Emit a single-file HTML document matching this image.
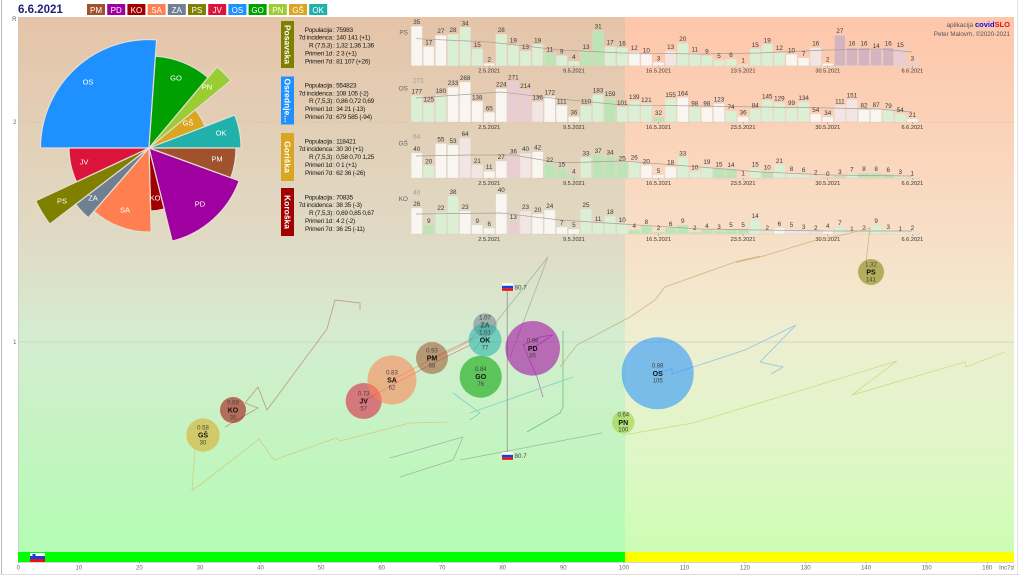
<!DOCTYPE html>
<html><head><meta charset="utf-8"><style>
html,body{margin:0;padding:0;background:#fff;}
svg{display:block;font-family:"Liberation Sans",sans-serif;}
.W{fill:#f9f6f1}.L{fill:#dbefd4}.G{fill:#bce4b4}.P{fill:#eacdd3}.M{fill:#d5b4bf}.Q{fill:#f2e5e4}
.bars rect{stroke:#e2dad2;stroke-width:0.4}
.bl text{font-size:6.3px;fill:#3a3a3a;text-anchor:middle}
.dt{font-size:5.6px;fill:#333;text-anchor:middle}
.inf{font-size:6.6px;fill:#1a1a1a;letter-spacing:-0.3px}
.ir{text-anchor:end}
.lg{font-size:8px;fill:#fff;text-anchor:middle}
.pl{font-size:7.5px;fill:#fff;text-anchor:middle}
.bv{font-size:6px;fill:#444;text-anchor:middle}
.bc{font-size:7px;font-weight:bold;fill:#111;text-anchor:middle}
.ax{font-size:6px;fill:#666;text-anchor:middle}
.rc{font-size:6.5px;fill:#666;text-anchor:end}
.mx{font-size:6.5px;fill:#999}
</style></head><body>
<svg width="1024" height="576" viewBox="0 0 1024 576" xmlns="http://www.w3.org/2000/svg">
<defs>
<linearGradient id="gl" x1="0" y1="17" x2="0" y2="552" gradientUnits="userSpaceOnUse">
<stop offset="0" stop-color="#e5c4a8"/><stop offset="0.43" stop-color="#e0dbc6"/><stop offset="0.6" stop-color="#d4edd0"/><stop offset="1" stop-color="#b3fcb3"/>
</linearGradient>
<linearGradient id="gr" x1="0" y1="17" x2="0" y2="552" gradientUnits="userSpaceOnUse">
<stop offset="0" stop-color="#fec6aa"/><stop offset="0.43" stop-color="#f7e0c8"/><stop offset="0.6" stop-color="#eeeed0"/><stop offset="0.8" stop-color="#e0f6c8"/><stop offset="1" stop-color="#ccfdb4"/>
</linearGradient>
</defs>
<rect width="1024" height="576" fill="#fff"/>
<line x1="1.5" y1="0" x2="1.5" y2="575" stroke="#bbb"/>
<line x1="0" y1="574.5" x2="1020" y2="574.5" stroke="#ddd"/>
<line x1="1017.5" y1="0" x2="1017.5" y2="575" stroke="#e4e4e4"/>
<!-- plot bg -->
<rect x="18" y="17" width="607" height="535" fill="url(#gl)"/>
<rect x="625" y="17" width="389" height="535" fill="url(#gr)"/>
<line x1="18" y1="122" x2="1014" y2="122" stroke="#c8bfae" stroke-width="0.7" stroke-dasharray="1.5,2"/>
<line x1="18" y1="342" x2="1014" y2="342" stroke="#c6d2bc" stroke-width="0.7"/>
<line x1="18.3" y1="17" x2="18.3" y2="562" stroke="#c8c8c8" stroke-width="0.6"/>
<!-- bottom bar -->
<rect x="18" y="552" width="607" height="10" fill="#00ff00"/>
<rect x="625" y="552" width="389" height="10" fill="#ffff00"/>
<rect x="30" y="553" width="15" height="3" fill="#fff"/><rect x="30" y="556" width="15" height="3" fill="#1040e0"/><rect x="30" y="559" width="15" height="3" fill="#ee1010"/>
<rect x="32.5" y="554" width="3" height="3.5" fill="#1040e0"/>
<line x1="18" y1="562.3" x2="1014" y2="562.3" stroke="#bbb" stroke-width="0.6"/>
<g stroke="#aaa" stroke-width="0.5">
<line x1="18.3" y1="562" x2="18.3" y2="564"/><line x1="78.9" y1="562" x2="78.9" y2="564"/><line x1="139.4" y1="562" x2="139.4" y2="564"/><line x1="200" y1="562" x2="200" y2="564"/><line x1="260.5" y1="562" x2="260.5" y2="564"/><line x1="321.1" y1="562" x2="321.1" y2="564"/><line x1="381.7" y1="562" x2="381.7" y2="564"/><line x1="442.2" y1="562" x2="442.2" y2="564"/><line x1="502.8" y1="562" x2="502.8" y2="564"/><line x1="563.3" y1="562" x2="563.3" y2="564"/><line x1="623.9" y1="562" x2="623.9" y2="564"/><line x1="684.5" y1="562" x2="684.5" y2="564"/><line x1="745" y1="562" x2="745" y2="564"/><line x1="805.6" y1="562" x2="805.6" y2="564"/><line x1="866.1" y1="562" x2="866.1" y2="564"/><line x1="926.7" y1="562" x2="926.7" y2="564"/><line x1="987.3" y1="562" x2="987.3" y2="564"/>
</g>
<g class="ax">
<text x="18.3" y="569.5">0</text><text x="78.9" y="569.5">10</text><text x="139.4" y="569.5">20</text><text x="200" y="569.5">30</text><text x="260.5" y="569.5">40</text><text x="321.1" y="569.5">50</text><text x="381.7" y="569.5">60</text><text x="442.2" y="569.5">70</text><text x="502.8" y="569.5">80</text><text x="563.3" y="569.5">90</text><text x="623.9" y="569.5">100</text><text x="684.5" y="569.5">110</text><text x="745" y="569.5">120</text><text x="805.6" y="569.5">130</text><text x="866.1" y="569.5">140</text><text x="926.7" y="569.5">150</text><text x="987.3" y="569.5">160</text><text x="1006.5" y="569.5">Inc7d</text>
</g>
<g class="ax" style="text-anchor:end"><text x="16.5" y="21">R</text><text x="16.5" y="124">2</text><text x="16.5" y="344">1</text></g>

<!-- header -->
<text x="18" y="13" font-size="11.5" font-weight="bold" fill="#1f1f7a">6.6.2021</text>
<rect x="87" y="4" width="18" height="11" fill="#a0522d"/><rect x="107.2" y="4" width="18" height="11" fill="#a000a0"/><rect x="127.4" y="4" width="18" height="11" fill="#a00000"/><rect x="147.6" y="4" width="18" height="11" fill="#ff7f50"/><rect x="167.8" y="4" width="18" height="11" fill="#708090"/><rect x="188" y="4" width="18" height="11" fill="#808000"/><rect x="208.2" y="4" width="18" height="11" fill="#dc143c"/><rect x="228.4" y="4" width="18" height="11" fill="#1e90ff"/><rect x="248.6" y="4" width="18" height="11" fill="#00a000"/><rect x="268.8" y="4" width="18" height="11" fill="#9acd32"/><rect x="289" y="4" width="18" height="11" fill="#daa520"/><rect x="309.2" y="4" width="18" height="11" fill="#20b2aa"/>
<g class="lg"><text x="96" y="12.8">PM</text><text x="116.2" y="12.8">PD</text><text x="136.4" y="12.8">KO</text><text x="156.6" y="12.8">SA</text><text x="176.8" y="12.8">ZA</text><text x="197" y="12.8">PS</text><text x="217.2" y="12.8">JV</text><text x="237.4" y="12.8">OS</text><text x="257.6" y="12.8">GO</text><text x="277.8" y="12.8">PN</text><text x="298" y="12.8">GŠ</text><text x="318.2" y="12.8">OK</text></g>

<!-- pie -->
<g stroke="#e6ddd4" stroke-width="1.2">
<path d="M149,148 L40.5,148 A108.5,108.5 0 0 1 156.6,39.8 Z" fill="#1e90ff"/>
<path d="M149,148 L155.4,56.2 A92,92 0 0 1 208.1,77.5 Z" fill="#00a000"/>
<path d="M149,148 L217.1,66.8 A106,106 0 0 1 230.8,80.6 Z" fill="#9acd32"/>
<path d="M149,148 L195.3,109.8 A60,60 0 0 1 205,126.5 Z" fill="#daa520"/>
<path d="M149,148 L234.9,115 A92,92 0 0 1 241,148 Z" fill="#20b2aa"/>
<path d="M149,148 L236,148 A87,87 0 0 1 230.8,177.8 Z" fill="#a0522d"/>
<path d="M149,148 L239.2,180.8 A96,96 0 0 1 172.2,241.1 Z" fill="#a000a0"/>
<path d="M149,148 L164.2,209.1 A63,63 0 0 1 150.6,211 Z" fill="#a00000"/>
<path d="M149,148 L151.2,232 A84,84 0 0 1 93.9,211.4 Z" fill="#ff7f50"/>
<path d="M149,148 L88.3,217.8 A92.5,92.5 0 0 1 75.6,204.3 Z" fill="#708090"/>
<path d="M149,148 L49.8,224.1 A125,125 0 0 1 35.7,200.8 Z" fill="#808000"/>
<path d="M149,148 L76.5,181.8 A80,80 0 0 1 69,148 Z" fill="#dc143c"/>
</g>
<g class="pl"><text x="88" y="84.5">OS</text><text x="176" y="80.5">GO</text><text x="207" y="89.5">PN</text><text x="188" y="125.5">GŠ</text><text x="221" y="135.5">OK</text><text x="217" y="161.5">PM</text><text x="200" y="206.5">PD</text><text x="155" y="200.5">KO</text><text x="125" y="212.5">SA</text><text x="93" y="200.5">ZA</text><text x="62" y="203.5">PS</text><text x="84" y="164.5">JV</text></g>

<!-- info panels -->
<rect x="281" y="21" width="13" height="47" fill="#808000"/>
<rect x="281" y="76.5" width="13" height="48" fill="#1e90ff"/>
<rect x="281" y="133" width="13" height="48" fill="#daa520"/>
<rect x="281" y="188" width="13" height="48" fill="#a00000"/>
<g font-size="8.5" font-weight="bold" fill="#fff" text-anchor="middle">
<text transform="translate(287.5,44.5) rotate(90)" dy="3">Posavska</text>
<text transform="translate(287.5,100.5) rotate(90)" dy="3">Osrednje...</text>
<text transform="translate(287.5,157) rotate(90)" dy="3">Goriška</text>
<text transform="translate(287.5,212) rotate(90)" dy="3">Koroška</text>
</g>
<g class="inf">
<g class="ir"><text x="332" y="31.8">Populacija</text><text x="332" y="39.7">7d incidenca</text><text x="332" y="47.4">R (7,5,3)</text><text x="332" y="55.3">Primeri 1d</text><text x="332" y="63.3">Primeri 7d</text>
<text x="332" y="87.4">Populacija</text><text x="332" y="95.3">7d incidenca</text><text x="332" y="103">R (7,5,3)</text><text x="332" y="111">Primeri 1d</text><text x="332" y="119">Primeri 7d</text>
<text x="332" y="143.4">Populacija</text><text x="332" y="151">7d incidenca</text><text x="332" y="159">R (7,5,3)</text><text x="332" y="167">Primeri 1d</text><text x="332" y="175">Primeri 7d</text>
<text x="332" y="199.4">Populacija</text><text x="332" y="207">7d incidenca</text><text x="332" y="215">R (7,5,3)</text><text x="332" y="223">Primeri 1d</text><text x="332" y="231">Primeri 7d</text></g>
<text x="333" y="31.8">: 75983</text><text x="333" y="39.7">: 140 141 (+1)</text><text x="333" y="47.4">: 1,32 1,36 1,36</text><text x="333" y="55.3">: 2 3 (+1)</text><text x="333" y="63.3">: 81 107 (+26)</text>
<text x="333" y="87.4">: 554823</text><text x="333" y="95.3">: 108 105 (-2)</text><text x="333" y="103">: 0,86 0,72 0,69</text><text x="333" y="111">: 34 21 (-13)</text><text x="333" y="119">: 679 585 (-94)</text>
<text x="333" y="143.4">: 118421</text><text x="333" y="151">: 30 30 (+1)</text><text x="333" y="159">: 0,58 0,70 1,25</text><text x="333" y="167">: 0 1 (+1)</text><text x="333" y="175">: 62 36 (-26)</text>
<text x="333" y="199.4">: 70835</text><text x="333" y="207">: 38 35 (-3)</text><text x="333" y="215">: 0,69 0,85 0,67</text><text x="333" y="223">: 4 2 (-2)</text><text x="333" y="231">: 36 25 (-11)</text>
</g>

<!-- credits -->
<text x="1010" y="27" font-size="6.5" text-anchor="end"><tspan fill="#555">aplikacija </tspan><tspan fill="#1010e0" font-weight="bold" font-size="7.5">covid</tspan><tspan fill="#e01010" font-weight="bold" font-size="7.5">SLO</tspan></text>
<text x="1010" y="36" font-size="6.2" fill="#555" text-anchor="end">Peter Malovrh, ©2020-2021</text>

<!-- region codes and max labels -->
<text class="rc" x="408" y="34.5">PS</text><text class="rc" x="408" y="90.5">OS</text><text class="rc" x="408" y="145.5">GŠ</text><text class="rc" x="408" y="201">KO</text>
<text class="mx" x="413" y="82.5">271</text><text class="mx" x="413" y="138.5">64</text><text class="mx" x="413" y="194.5">40</text>

<!-- chart 1 -->
<g transform="translate(0,65.7)">
<line x1="411" y1="0" x2="920" y2="0" stroke="#c8c0b8" stroke-width="0.6"/>
<g class="bars">
<rect x="411.2" y="-39.5" width="11" height="39.5" class="W"/><rect x="423.3" y="-19.2" width="11" height="19.2" class="W"/><rect x="435.4" y="-30.5" width="11" height="30.5" class="W"/><rect x="447.5" y="-31.6" width="11" height="31.6" class="L"/><rect x="459.6" y="-38.4" width="11" height="38.4" class="L"/><rect x="471.7" y="-16.9" width="11" height="16.9" class="L"/><rect x="483.7" y="-2.3" width="11" height="2.3" class="W"/><rect x="495.8" y="-31.6" width="11" height="31.6" class="L"/><rect x="507.9" y="-21.4" width="11" height="21.4" class="L"/><rect x="520" y="-14.7" width="11" height="14.7" class="L"/><rect x="532.1" y="-21.4" width="11" height="21.4" class="L"/><rect x="544.2" y="-12.4" width="11" height="12.4" class="G"/><rect x="556.3" y="-10.2" width="11" height="10.2" class="L"/><rect x="568.4" y="-4.5" width="11" height="4.5" class="L"/><rect x="580.5" y="-14.7" width="11" height="14.7" class="G"/><rect x="592.6" y="-35" width="11" height="35" class="G"/><rect x="604.6" y="-19.2" width="11" height="19.2" class="L"/><rect x="616.7" y="-18.1" width="11" height="18.1" class="L"/><rect x="628.8" y="-13.5" width="11" height="13.5" class="W"/><rect x="640.9" y="-11.3" width="11" height="11.3" class="W"/><rect x="653" y="-3.4" width="11" height="3.4" class="W"/><rect x="665.1" y="-14.7" width="11" height="14.7" class="Q"/><rect x="677.2" y="-22.6" width="11" height="22.6" class="L"/><rect x="689.3" y="-12.4" width="11" height="12.4" class="L"/><rect x="701.4" y="-10.2" width="11" height="10.2" class="L"/><rect x="713.5" y="-5.6" width="11" height="5.6" class="L"/><rect x="725.5" y="-6.8" width="11" height="6.8" class="L"/><rect x="737.6" y="-1.1" width="11" height="1.1" class="W"/><rect x="749.7" y="-16.9" width="11" height="16.9" class="L"/><rect x="761.8" y="-21.4" width="11" height="21.4" class="L"/><rect x="773.9" y="-13.5" width="11" height="13.5" class="L"/><rect x="786" y="-11.3" width="11" height="11.3" class="W"/><rect x="798.1" y="-7.9" width="11" height="7.9" class="W"/><rect x="810.2" y="-18.1" width="11" height="18.1" class="Q"/><rect x="822.3" y="-2.3" width="11" height="2.3" class="W"/><rect x="834.4" y="-30.5" width="11" height="30.5" class="M"/><rect x="846.4" y="-18.1" width="11" height="18.1" class="M"/><rect x="858.5" y="-18.1" width="11" height="18.1" class="M"/><rect x="870.6" y="-15.8" width="11" height="15.8" class="M"/><rect x="882.7" y="-18.1" width="11" height="18.1" class="M"/><rect x="894.8" y="-16.9" width="11" height="16.9" class="P"/><rect x="906.9" y="-3.4" width="11" height="3.4" class="P"/>
</g>
<polyline points="416,-27 489,-23.7 560,-15.7 622,-12.7 700,-11.7 760,-12.7 827,-15.7 880,-16.7 912,-13.7" fill="none" stroke="#a8a098" stroke-width="0.7"/>
<g class="bl"><text x="416.7" y="-41.5">35</text><text x="428.8" y="-21.2">17</text><text x="440.9" y="-32.5">27</text><text x="453" y="-33.6">28</text><text x="465.1" y="-40.4">34</text><text x="477.2" y="-18.9">15</text><text x="489.2" y="-4.3">2</text><text x="501.3" y="-33.6">28</text><text x="513.4" y="-23.4">19</text><text x="525.5" y="-16.7">13</text><text x="537.6" y="-23.4">19</text><text x="549.7" y="-14.4">11</text><text x="561.8" y="-12.2">9</text><text x="573.9" y="-6.5">4</text><text x="586" y="-16.7">13</text><text x="598.1" y="-37">31</text><text x="610.1" y="-21.2">17</text><text x="622.2" y="-20.1">16</text><text x="634.3" y="-15.5">12</text><text x="646.4" y="-13.3">10</text><text x="658.5" y="-5.4">3</text><text x="670.6" y="-16.7">13</text><text x="682.7" y="-24.6">20</text><text x="694.8" y="-14.4">11</text><text x="706.9" y="-12.2">9</text><text x="719" y="-7.6">5</text><text x="731" y="-8.8">6</text><text x="743.1" y="-3.1">1</text><text x="755.2" y="-18.9">15</text><text x="767.3" y="-23.4">19</text><text x="779.4" y="-15.5">12</text><text x="791.5" y="-13.3">10</text><text x="803.6" y="-9.9">7</text><text x="815.7" y="-20.1">16</text><text x="827.8" y="-4.3">2</text><text x="839.9" y="-32.5">27</text><text x="851.9" y="-20.1">16</text><text x="864" y="-20.1">16</text><text x="876.1" y="-17.8">14</text><text x="888.2" y="-20.1">16</text><text x="900.3" y="-18.9">15</text><text x="912.4" y="-5.4">3</text></g>
<g stroke="#888" stroke-width="0.5"><line x1="489.2" y1="0" x2="489.2" y2="2"/><line x1="573.9" y1="0" x2="573.9" y2="2"/><line x1="658.5" y1="0" x2="658.5" y2="2"/><line x1="743.1" y1="0" x2="743.1" y2="2"/><line x1="827.8" y1="0" x2="827.8" y2="2"/><line x1="912.4" y1="0" x2="912.4" y2="2"/></g>
<g class="dt"><text x="489.2" y="7">2.5.2021</text><text x="573.9" y="7">9.5.2021</text><text x="658.5" y="7">16.5.2021</text><text x="743.1" y="7">23.5.2021</text><text x="827.8" y="7">30.5.2021</text><text x="912.4" y="7">6.6.2021</text></g>
</g>

<!-- chart 2 -->
<g transform="translate(0,122)">
<line x1="411" y1="0" x2="920" y2="0" stroke="#c8c0b8" stroke-width="0.6"/>
<g class="bars">
<rect x="411.2" y="-26.5" width="11" height="26.5" class="L"/><rect x="423.3" y="-18.7" width="11" height="18.7" class="L"/><rect x="435.4" y="-26.9" width="11" height="26.9" class="L"/><rect x="447.5" y="-34.8" width="11" height="34.8" class="W"/><rect x="459.6" y="-40.1" width="11" height="40.1" class="W"/><rect x="471.7" y="-20.6" width="11" height="20.6" class="W"/><rect x="483.7" y="-9.7" width="11" height="9.7" class="W"/><rect x="495.8" y="-33.5" width="11" height="33.5" class="W"/><rect x="507.9" y="-40.5" width="11" height="40.5" class="P"/><rect x="520" y="-32" width="11" height="32" class="P"/><rect x="532.1" y="-20.3" width="11" height="20.3" class="Q"/><rect x="544.2" y="-25.7" width="11" height="25.7" class="W"/><rect x="556.3" y="-16.6" width="11" height="16.6" class="W"/><rect x="568.4" y="-5.4" width="11" height="5.4" class="W"/><rect x="580.5" y="-16.4" width="11" height="16.4" class="L"/><rect x="592.6" y="-27.3" width="11" height="27.3" class="L"/><rect x="604.6" y="-23.8" width="11" height="23.8" class="G"/><rect x="616.7" y="-15.1" width="11" height="15.1" class="L"/><rect x="628.8" y="-20.8" width="11" height="20.8" class="L"/><rect x="640.9" y="-18.1" width="11" height="18.1" class="L"/><rect x="653" y="-4.8" width="11" height="4.8" class="G"/><rect x="665.1" y="-23.2" width="11" height="23.2" class="L"/><rect x="677.2" y="-24.5" width="11" height="24.5" class="W"/><rect x="689.3" y="-14.6" width="11" height="14.6" class="L"/><rect x="701.4" y="-14.6" width="11" height="14.6" class="W"/><rect x="713.5" y="-18.4" width="11" height="18.4" class="W"/><rect x="725.5" y="-11.1" width="11" height="11.1" class="L"/><rect x="737.6" y="-5.4" width="11" height="5.4" class="W"/><rect x="749.7" y="-12.6" width="11" height="12.6" class="L"/><rect x="761.8" y="-21.7" width="11" height="21.7" class="L"/><rect x="773.9" y="-19.3" width="11" height="19.3" class="L"/><rect x="786" y="-14.8" width="11" height="14.8" class="L"/><rect x="798.1" y="-20" width="11" height="20" class="L"/><rect x="810.2" y="-8.1" width="11" height="8.1" class="W"/><rect x="822.3" y="-5.1" width="11" height="5.1" class="W"/><rect x="834.4" y="-16.6" width="11" height="16.6" class="Q"/><rect x="846.4" y="-22.6" width="11" height="22.6" class="Q"/><rect x="858.5" y="-12.3" width="11" height="12.3" class="W"/><rect x="870.6" y="-13" width="11" height="13" class="W"/><rect x="882.7" y="-11.8" width="11" height="11.8" class="L"/><rect x="894.8" y="-8.1" width="11" height="8.1" class="L"/><rect x="906.9" y="-3.1" width="11" height="3.1" class="W"/>
</g>
<polyline points="416,-24 501,-30 560,-23 622,-17 700,-16 760,-15 830,-14 880,-13 912,-10" fill="none" stroke="#a8a098" stroke-width="0.7"/>
<g class="bl"><text x="416.7" y="-28.5">177</text><text x="428.8" y="-20.7">125</text><text x="440.9" y="-28.9">180</text><text x="453" y="-36.8">233</text><text x="465.1" y="-42.1">268</text><text x="477.2" y="-22.6">138</text><text x="489.2" y="-11.7">65</text><text x="501.3" y="-35.5">224</text><text x="513.4" y="-42.5">271</text><text x="525.5" y="-34">214</text><text x="537.6" y="-22.3">136</text><text x="549.7" y="-27.7">172</text><text x="561.8" y="-18.6">111</text><text x="573.9" y="-7.4">36</text><text x="586" y="-18.4">110</text><text x="598.1" y="-29.3">183</text><text x="610.1" y="-25.8">159</text><text x="622.2" y="-17.1">101</text><text x="634.3" y="-22.8">139</text><text x="646.4" y="-20.1">121</text><text x="658.5" y="-6.8">32</text><text x="670.6" y="-25.2">155</text><text x="682.7" y="-26.5">164</text><text x="694.8" y="-16.6">98</text><text x="706.9" y="-16.6">98</text><text x="719" y="-20.4">123</text><text x="731" y="-13.1">74</text><text x="743.1" y="-7.4">36</text><text x="755.2" y="-14.6">84</text><text x="767.3" y="-23.7">145</text><text x="779.4" y="-21.3">129</text><text x="791.5" y="-16.8">99</text><text x="803.6" y="-22">134</text><text x="815.7" y="-10.1">54</text><text x="827.8" y="-7.1">34</text><text x="839.9" y="-18.6">111</text><text x="851.9" y="-24.6">151</text><text x="864" y="-14.3">82</text><text x="876.1" y="-15">87</text><text x="888.2" y="-13.8">79</text><text x="900.3" y="-10.1">54</text><text x="912.4" y="-5.1">21</text></g>
<g stroke="#888" stroke-width="0.5"><line x1="489.2" y1="0" x2="489.2" y2="2"/><line x1="573.9" y1="0" x2="573.9" y2="2"/><line x1="658.5" y1="0" x2="658.5" y2="2"/><line x1="743.1" y1="0" x2="743.1" y2="2"/><line x1="827.8" y1="0" x2="827.8" y2="2"/><line x1="912.4" y1="0" x2="912.4" y2="2"/></g>
<g class="dt"><text x="489.2" y="7">2.5.2021</text><text x="573.9" y="7">9.5.2021</text><text x="658.5" y="7">16.5.2021</text><text x="743.1" y="7">23.5.2021</text><text x="827.8" y="7">30.5.2021</text><text x="912.4" y="7">6.6.2021</text></g>
</g>

<!-- chart 3 -->
<g transform="translate(0,178)">
<line x1="411" y1="0" x2="920" y2="0" stroke="#c8c0b8" stroke-width="0.6"/>
<g class="bars">
<rect x="411.2" y="-25" width="11" height="25" class="W"/><rect x="423.3" y="-12.5" width="11" height="12.5" class="L"/><rect x="435.4" y="-34.4" width="11" height="34.4" class="W"/><rect x="447.5" y="-33.1" width="11" height="33.1" class="W"/><rect x="459.6" y="-40" width="11" height="40" class="Q"/><rect x="471.7" y="-13.1" width="11" height="13.1" class="Q"/><rect x="483.7" y="-6.9" width="11" height="6.9" class="W"/><rect x="495.8" y="-16.9" width="11" height="16.9" class="W"/><rect x="507.9" y="-22.5" width="11" height="22.5" class="P"/><rect x="520" y="-25" width="11" height="25" class="Q"/><rect x="532.1" y="-26.3" width="11" height="26.3" class="W"/><rect x="544.2" y="-13.8" width="11" height="13.8" class="G"/><rect x="556.3" y="-9.4" width="11" height="9.4" class="G"/><rect x="568.4" y="-2.5" width="11" height="2.5" class="G"/><rect x="580.5" y="-20.6" width="11" height="20.6" class="L"/><rect x="592.6" y="-23.1" width="11" height="23.1" class="G"/><rect x="604.6" y="-21.3" width="11" height="21.3" class="G"/><rect x="616.7" y="-15.6" width="11" height="15.6" class="G"/><rect x="628.8" y="-16.3" width="11" height="16.3" class="L"/><rect x="640.9" y="-12.5" width="11" height="12.5" class="W"/><rect x="653" y="-3.1" width="11" height="3.1" class="W"/><rect x="665.1" y="-11.3" width="11" height="11.3" class="W"/><rect x="677.2" y="-20.6" width="11" height="20.6" class="L"/><rect x="689.3" y="-6.3" width="11" height="6.3" class="L"/><rect x="701.4" y="-11.9" width="11" height="11.9" class="L"/><rect x="713.5" y="-9.4" width="11" height="9.4" class="G"/><rect x="725.5" y="-8.8" width="11" height="8.8" class="G"/><rect x="737.6" y="-0.6" width="11" height="0.6" class="W"/><rect x="749.7" y="-9.4" width="11" height="9.4" class="L"/><rect x="761.8" y="-6.3" width="11" height="6.3" class="G"/><rect x="773.9" y="-13.1" width="11" height="13.1" class="L"/><rect x="786" y="-5" width="11" height="5" class="L"/><rect x="798.1" y="-3.8" width="11" height="3.8" class="L"/><rect x="810.2" y="-1.3" width="11" height="1.3" class="L"/><rect x="834.4" y="-1.9" width="11" height="1.9" class="G"/><rect x="846.4" y="-4.4" width="11" height="4.4" class="L"/><rect x="858.5" y="-5" width="11" height="5" class="G"/><rect x="870.6" y="-5" width="11" height="5" class="G"/><rect x="882.7" y="-3.8" width="11" height="3.8" class="G"/><rect x="894.8" y="-1.9" width="11" height="1.9" class="L"/><rect x="906.9" y="-0.6" width="11" height="0.6" class="L"/>
</g>
<polyline points="416,-22 470,-23 513,-23 560,-15 622,-17 700,-11 760,-6 830,-3 912,-2" fill="none" stroke="#a8a098" stroke-width="0.7"/>
<g class="bl"><text x="416.7" y="-27">40</text><text x="428.8" y="-14.5">20</text><text x="440.9" y="-36.4">55</text><text x="453" y="-35.1">53</text><text x="465.1" y="-42">64</text><text x="477.2" y="-15.1">21</text><text x="489.2" y="-8.9">11</text><text x="501.3" y="-18.9">27</text><text x="513.4" y="-24.5">36</text><text x="525.5" y="-27">40</text><text x="537.6" y="-28.3">42</text><text x="549.7" y="-15.8">22</text><text x="561.8" y="-11.4">15</text><text x="573.9" y="-4.5">4</text><text x="586" y="-22.6">33</text><text x="598.1" y="-25.1">37</text><text x="610.1" y="-23.3">34</text><text x="622.2" y="-17.6">25</text><text x="634.3" y="-18.3">26</text><text x="646.4" y="-14.5">20</text><text x="658.5" y="-5.1">5</text><text x="670.6" y="-13.3">18</text><text x="682.7" y="-22.6">33</text><text x="694.8" y="-8.3">10</text><text x="706.9" y="-13.9">19</text><text x="719" y="-11.4">15</text><text x="731" y="-10.8">14</text><text x="743.1" y="-2.6">1</text><text x="755.2" y="-11.4">15</text><text x="767.3" y="-8.3">10</text><text x="779.4" y="-15.1">21</text><text x="791.5" y="-7">8</text><text x="803.6" y="-5.8">6</text><text x="815.7" y="-3.3">2</text><text x="827.8" y="-2">0</text><text x="839.9" y="-3.9">3</text><text x="851.9" y="-6.4">7</text><text x="864" y="-7">8</text><text x="876.1" y="-7">8</text><text x="888.2" y="-5.8">6</text><text x="900.3" y="-3.9">3</text><text x="912.4" y="-2.6">1</text></g>
<g stroke="#888" stroke-width="0.5"><line x1="489.2" y1="0" x2="489.2" y2="2"/><line x1="573.9" y1="0" x2="573.9" y2="2"/><line x1="658.5" y1="0" x2="658.5" y2="2"/><line x1="743.1" y1="0" x2="743.1" y2="2"/><line x1="827.8" y1="0" x2="827.8" y2="2"/><line x1="912.4" y1="0" x2="912.4" y2="2"/></g>
<g class="dt"><text x="489.2" y="7">2.5.2021</text><text x="573.9" y="7">9.5.2021</text><text x="658.5" y="7">16.5.2021</text><text x="743.1" y="7">23.5.2021</text><text x="827.8" y="7">30.5.2021</text><text x="912.4" y="7">6.6.2021</text></g>
</g>

<!-- chart 4 -->
<g transform="translate(0,234)">
<line x1="411" y1="0" x2="920" y2="0" stroke="#c8c0b8" stroke-width="0.6"/>
<g class="bars">
<rect x="411.2" y="-26" width="11" height="26" class="W"/><rect x="423.3" y="-9" width="11" height="9" class="G"/><rect x="435.4" y="-22" width="11" height="22" class="L"/><rect x="447.5" y="-38" width="11" height="38" class="L"/><rect x="459.6" y="-23" width="11" height="23" class="W"/><rect x="471.7" y="-9" width="11" height="9" class="W"/><rect x="483.7" y="-6" width="11" height="6" class="W"/><rect x="495.8" y="-40" width="11" height="40" class="W"/><rect x="507.9" y="-13" width="11" height="13" class="P"/><rect x="520" y="-23" width="11" height="23" class="Q"/><rect x="532.1" y="-20" width="11" height="20" class="W"/><rect x="544.2" y="-24" width="11" height="24" class="W"/><rect x="556.3" y="-7" width="11" height="7" class="W"/><rect x="568.4" y="-5" width="11" height="5" class="W"/><rect x="580.5" y="-25" width="11" height="25" class="L"/><rect x="592.6" y="-11" width="11" height="11" class="L"/><rect x="604.6" y="-18" width="11" height="18" class="L"/><rect x="616.7" y="-10" width="11" height="10" class="L"/><rect x="628.8" y="-4" width="11" height="4" class="G"/><rect x="640.9" y="-8" width="11" height="8" class="G"/><rect x="653" y="-2" width="11" height="2" class="G"/><rect x="665.1" y="-6" width="11" height="6" class="G"/><rect x="677.2" y="-9" width="11" height="9" class="G"/><rect x="689.3" y="-2" width="11" height="2" class="G"/><rect x="701.4" y="-4" width="11" height="4" class="G"/><rect x="713.5" y="-3" width="11" height="3" class="G"/><rect x="725.5" y="-5" width="11" height="5" class="G"/><rect x="737.6" y="-5" width="11" height="5" class="G"/><rect x="749.7" y="-14" width="11" height="14" class="L"/><rect x="761.8" y="-2" width="11" height="2" class="L"/><rect x="773.9" y="-6" width="11" height="6" class="W"/><rect x="786" y="-5" width="11" height="5" class="Q"/><rect x="798.1" y="-3" width="11" height="3" class="Q"/><rect x="810.2" y="-2" width="11" height="2" class="Q"/><rect x="822.3" y="-4" width="11" height="4" class="W"/><rect x="834.4" y="-7" width="11" height="7" class="L"/><rect x="846.4" y="-1" width="11" height="1" class="W"/><rect x="858.5" y="-2" width="11" height="2" class="L"/><rect x="870.6" y="-9" width="11" height="9" class="L"/><rect x="882.7" y="-3" width="11" height="3" class="L"/><rect x="894.8" y="-1" width="11" height="1" class="W"/><rect x="906.9" y="-2" width="11" height="2" class="L"/>
</g>
<polyline points="416,-20 501,-21 560,-14 622,-10 700,-5 760,-4 830,-3 912,-3" fill="none" stroke="#a8a098" stroke-width="0.7"/>
<g class="bl"><text x="416.7" y="-28">26</text><text x="428.8" y="-11">9</text><text x="440.9" y="-24">22</text><text x="453" y="-40">38</text><text x="465.1" y="-25">23</text><text x="477.2" y="-11">9</text><text x="489.2" y="-8">6</text><text x="501.3" y="-42">40</text><text x="513.4" y="-15">13</text><text x="525.5" y="-25">23</text><text x="537.6" y="-22">20</text><text x="549.7" y="-26">24</text><text x="561.8" y="-9">7</text><text x="573.9" y="-7">5</text><text x="586" y="-27">25</text><text x="598.1" y="-13">11</text><text x="610.1" y="-20">18</text><text x="622.2" y="-12">10</text><text x="634.3" y="-6">4</text><text x="646.4" y="-10">8</text><text x="658.5" y="-4">2</text><text x="670.6" y="-8">6</text><text x="682.7" y="-11">9</text><text x="694.8" y="-4">2</text><text x="706.9" y="-6">4</text><text x="719" y="-5">3</text><text x="731" y="-7">5</text><text x="743.1" y="-7">5</text><text x="755.2" y="-16">14</text><text x="767.3" y="-4">2</text><text x="779.4" y="-8">6</text><text x="791.5" y="-7">5</text><text x="803.6" y="-5">3</text><text x="815.7" y="-4">2</text><text x="827.8" y="-6">4</text><text x="839.9" y="-9">7</text><text x="851.9" y="-3">1</text><text x="864" y="-4">2</text><text x="876.1" y="-11">9</text><text x="888.2" y="-5">3</text><text x="900.3" y="-3">1</text><text x="912.4" y="-4">2</text></g>
<g stroke="#888" stroke-width="0.5"><line x1="489.2" y1="0" x2="489.2" y2="2"/><line x1="573.9" y1="0" x2="573.9" y2="2"/><line x1="658.5" y1="0" x2="658.5" y2="2"/><line x1="743.1" y1="0" x2="743.1" y2="2"/><line x1="827.8" y1="0" x2="827.8" y2="2"/><line x1="912.4" y1="0" x2="912.4" y2="2"/></g>
<g class="dt"><text x="489.2" y="7">2.5.2021</text><text x="573.9" y="7">9.5.2021</text><text x="658.5" y="7">16.5.2021</text><text x="743.1" y="7">23.5.2021</text><text x="827.8" y="7">30.5.2021</text><text x="912.4" y="7">6.6.2021</text></g>
</g>

<!-- trajectories -->
<g fill="none" stroke-width="0.8" opacity="0.75">
<polyline points="560,367 577,345 630,317 655,300 665,287 735,262 760,257 813,241 847,234 870,228 866,262" stroke="#c4a868"/>
<line x1="736" y1="262" x2="760" y2="256.5" stroke="#c4a868" stroke-width="1.6"/>
<polyline points="771,374 783,367 760,362 796,325 745,350 672,374 672,369 657,373" stroke="#70b4f0"/>
<polyline points="623,435 693,423 743,408 897,361 852,395 965,362 966,367 1005,352" stroke="#bcd86c"/>
<polyline points="448,422 410,423 340,441 336,438 274,460 259,439 200,485 192,490 195,450" stroke="#d8c070"/>
<polyline points="360,310 360,303 335,300 327,329 267,410 258,387 245,403 258,408 225,427" stroke="#c07a6a"/>
<polyline points="510,357 548,257 474,350" stroke="#9aa0a0"/>
<polyline points="390,458 463,437 453,460 400,477" stroke="#9aa0a0"/>
<polyline points="460,460 602,433" stroke="#9aa0a0"/>
<polyline points="563,331 563,407 560,413 527,432" stroke="#58b058"/>
<polyline points="533,348 553,335 540,337 523,345 537,377 543,397" stroke="#b050b0"/>
<polyline points="470,413 573,377" stroke="#60c8c0"/>
<polyline points="453,393 480,413 470,420" stroke="#60c8c0"/>
<polyline points="364,401 392,385 430,365 470,345" stroke="#e07080"/>
<polyline points="392,380 430,360 457,348 480,335" stroke="#f09070"/>
<polyline points="432,358 470,340 485,325" stroke="#c09080"/>
</g>

<!-- Slovenia average marker -->
<line x1="507.3" y1="291" x2="507.3" y2="452" stroke="#a0a0a0" stroke-width="1"/>
<rect x="502" y="283.3" width="11" height="2.5" fill="#fff"/><rect x="502" y="285.8" width="11" height="2.5" fill="#1040e0"/><rect x="502" y="288.3" width="11" height="2.5" fill="#ee1010"/>
<rect x="502" y="452.3" width="11" height="2.5" fill="#fff"/><rect x="502" y="454.8" width="11" height="2.5" fill="#1040e0"/><rect x="502" y="457.3" width="11" height="2.5" fill="#ee1010"/>
<text x="514.5" y="289.5" font-size="6.3" fill="#444">80.7</text>
<text x="514.5" y="458.2" font-size="6.3" fill="#444">80.7</text>

<!-- bubbles -->
<g fill-opacity="0.55">
<circle cx="203" cy="435" r="16.7" fill="#daa520"/>
<circle cx="233" cy="410" r="13" fill="#a00000"/>
<circle cx="363.7" cy="401" r="18" fill="#dc143c"/>
<circle cx="392" cy="380" r="24.5" fill="#ff7f50"/>
<circle cx="432" cy="358" r="16" fill="#a0522d"/>
<circle cx="480.7" cy="376.7" r="21" fill="#00a000"/>
<circle cx="485" cy="325" r="11.7" fill="#708090"/>
<circle cx="485" cy="340" r="16.5" fill="#20b2aa"/>
<circle cx="532.7" cy="348.3" r="27.3" fill="#a000a0"/>
<circle cx="657.7" cy="373.3" r="36" fill="#1e90ff"/>
<circle cx="623.3" cy="422.3" r="11.3" fill="#9acd32"/>
<circle cx="871" cy="272" r="13" fill="#808000"/>
</g>
<g>
<text class="bv" x="203" y="429.4">0.58</text><text class="bc" x="203" y="437.5">GŠ</text><text class="bv" x="203" y="444.4">30</text>
<text class="bv" x="233" y="404.4">0.69</text><text class="bc" x="233" y="412.5">KO</text><text class="bv" x="233" y="419.4">35</text>
<text class="bv" x="363.7" y="395.4">0.73</text><text class="bc" x="363.7" y="403.5">JV</text><text class="bv" x="363.7" y="410.4">57</text>
<text class="bv" x="392" y="374.4">0.83</text><text class="bc" x="392" y="382.5">SA</text><text class="bv" x="392" y="389.4">62</text>
<text class="bv" x="432" y="352.4">0.93</text><text class="bc" x="432" y="360.5">PM</text><text class="bv" x="432" y="367.4">68</text>
<text class="bv" x="480.7" y="371.1">0.84</text><text class="bc" x="480.7" y="379.2">GO</text><text class="bv" x="480.7" y="386.1">76</text>
<text class="bv" x="485" y="319.4">1.07</text><text class="bc" x="485" y="327.5" fill-opacity="0.6">ZA</text>
<text class="bv" x="485" y="334.4">1.01</text><text class="bc" x="485" y="342.5">OK</text><text class="bv" x="485" y="349.4">77</text>
<text class="bv" x="532.7" y="342.7">0.98</text><text class="bc" x="532.7" y="350.8">PD</text><text class="bv" x="532.7" y="357.7">85</text>
<text class="bv" x="657.7" y="367.7">0.88</text><text class="bc" x="657.7" y="375.8">OS</text><text class="bv" x="657.7" y="382.7">105</text>
<text class="bv" x="623.3" y="416.7">0.64</text><text class="bc" x="623.3" y="424.8">PN</text><text class="bv" x="623.3" y="431.7">100</text>
<text class="bv" x="871" y="266.4">1.32</text><text class="bc" x="871" y="274.5">PS</text><text class="bv" x="871" y="281.4">141</text>
</g>
</svg>
</body></html>
